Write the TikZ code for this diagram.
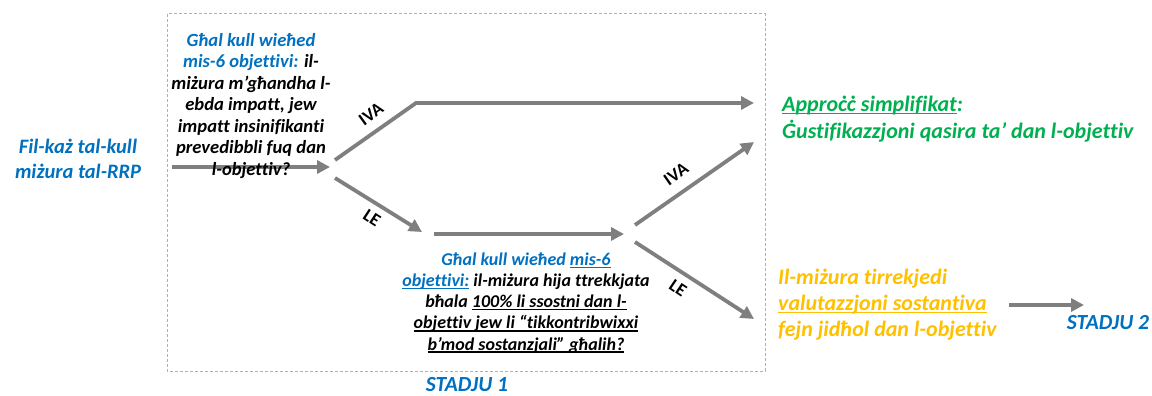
\documentclass[tikz,border=0pt]{standalone}
\usepackage{fontspec}
\setmainfont{Carlito}[Ligatures=NoCommon]
\usetikzlibrary{arrows.meta}
\definecolor{tblue}{HTML}{0070C0}
\definecolor{tgreen}{HTML}{00B050}
\definecolor{torange}{HTML}{FFC000}
\definecolor{tgray}{HTML}{7F7F7F}
\definecolor{tbox}{HTML}{9DB3CF}
\newcommand\myul[1]{\setbox0\hbox{#1}\rlap{\rule[-2.6pt]{\wd0}{1.3pt}}\box0}
\tikzset{
  conn/.style={draw=tgray, line width=3.8pt},
  arr/.style={conn, -{Triangle[length=13pt,width=13pt]}},
  txt/.style={inner sep=0pt, font=\bfseries\itshape},
  lbl/.style={inner sep=0pt, font=\fontsize{18}{20}\selectfont\bfseries},
}
\begin{document}
\begin{tikzpicture}[x=1pt,y=-1pt]
\useasboundingbox (0,0) rectangle (1152,396);
\draw[tbox, dash pattern=on 3pt off 2pt, line width=1pt] (167,14) rectangle (765,371);

% coordinates
\coordinate (s0) at (172,167);
\coordinate (s1) at (330,167);
\coordinate (a0) at (335,160);
\coordinate (a1) at (416,103);
\coordinate (a2) at (754,103);
\coordinate (b0) at (335,178);
\coordinate (b1) at (422,232);
\coordinate (c0) at (434,234);
\coordinate (c1) at (624,234);
\coordinate (d0) at (635,225);
\coordinate (d1) at (754,142);
\coordinate (e0) at (635,242);
\coordinate (e1) at (754,319);
\coordinate (f0) at (1009,305);
\coordinate (f1) at (1084,305);

\draw[arr] (s0) -- (s1);
\draw[arr] (a0) -- (a1) -- (a2);
\draw[arr] (b0) -- (b1);
\draw[arr] (c0) -- (c1);
\draw[arr] (d0) -- (d1);
\draw[arr] (e0) -- (e1);
\draw[arr] (f0) -- (f1);

\node[txt, tblue, align=center, font=\fontsize{20.5}{25}\selectfont\bfseries\itshape] (start) at (78,159)
  {Fil-każ tal-kull\\miżura tal-RRP};

\node[txt, align=center, font=\fontsize{18.6}{21.5}\selectfont\bfseries\itshape] (q1) at (251,106)
  {\textcolor{tblue}{Għal kull wieħed}\\\textcolor{tblue}{mis-6 objettivi:} il-\\miżura m’għandha l-\\ebda impatt, jew\\impatt insinifikanti\\prevedibbli fuq dan\\l-objettiv?};

\node[txt, align=center, font=\fontsize{18}{21.2}\selectfont\bfseries\itshape] (q2) at (526,303)
  {\textcolor{tblue}{Għal kull wieħed \myul{mis-6}}\\\textcolor{tblue}{\myul{objettivi:}} il-miżura hija ttrekkjata\\bħala \myul{100\% li ssostni dan l-}\\\myul{objettiv jew li “tikkontribwixxi}\\\myul{b’mod sostanzjali” għalih?}};

\node[txt, tgreen, anchor=west, align=left, font=\fontsize{22}{27}\selectfont\bfseries\itshape] (simp) at (782,119)
  {\myul{Approċċ simplifikat}:\\Ġustifikazzjoni qasira ta’ dan l-objettiv};

\node[txt, torange, anchor=west, align=left, font=\fontsize{22}{26}\selectfont\bfseries\itshape] (sost) at (778,305)
  {Il-miżura tirrekjedi\\\myul{valutazzjoni sostantiva}\\fejn jidħol dan l-objettiv};

\node[txt, tblue, font=\fontsize{21.5}{24}\selectfont\bfseries\itshape] (st1) at (467,385) {STADJU 1};
\node[txt, tblue, font=\fontsize{21.5}{24}\selectfont\bfseries\itshape] (st2) at (1108,323) {STADJU 2};

\node[lbl, rotate=36] (iva1) at (371,114) {IVA};
\node[lbl, rotate=-33] (le1) at (372,218) {LE};
\node[lbl, rotate=35] (iva2) at (676,174) {IVA};
\node[lbl, rotate=-34] (le2) at (678,288) {LE};
\end{tikzpicture}
\end{document}
